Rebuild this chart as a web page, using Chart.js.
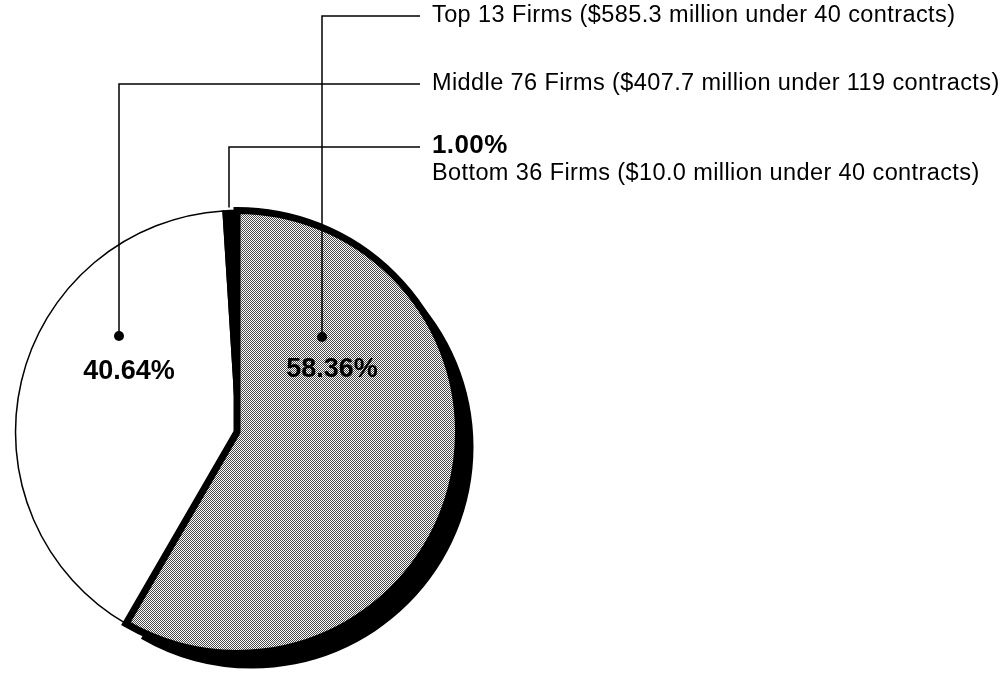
<!DOCTYPE html>
<html>
<head>
<meta charset="utf-8">
<title>Contract dollars by firm group</title>
<script src="https://cdn.jsdelivr.net/npm/chart.js@4.4.1/dist/chart.umd.min.js"></script>
<style>
  body { margin: 0; background: #fff; }
  #wrap { width: 1005px; height: 675px; }
</style>
</head>
<body>
<div id="wrap"><canvas id="pieChart" width="1005" height="675"></canvas></div>
<script>
// slice order: drawn white, black, then gray on top
const groups = ['Middle 76 Firms', 'Bottom 36 Firms', 'Top 13 Firms'];
const shares = [40.64, 1.00, 58.36];
const dollars = ['$407.7', '$10.0', '$585.3'];
const contracts = [119, 40, 40];
const shareLabels = ['40.64%', '1.00%', '58.36%'];

function dotPattern() {
    const c = document.createElement('canvas');
    c.width = 2; c.height = 2;
    const g = c.getContext('2d');
    g.fillStyle = '#fff';
    g.fillRect(0, 0, 2, 2);
    g.fillStyle = '#4a4a4a';
    g.fillRect(0, 0, 1, 1);
    g.fillRect(1, 1, 1, 1);
    return g.createPattern(c, 'repeat');
}

document.addEventListener('DOMContentLoaded', function() {
    const ctx = document.getElementById('pieChart').getContext('2d');
    const gray = dotPattern();

    // black drop shadow under the big slice
    const shadowPlugin = {
        id: 'shadow',
        beforeDatasetsDraw(chart) {
            const arc = chart.getDatasetMeta(0).data[2];
            const p = arc.getProps(['x', 'y', 'startAngle', 'endAngle', 'outerRadius'], true);
            const c = chart.ctx;
            const dx = 15, dy = 15;
            c.save();
            c.fillStyle = '#000';
            c.beginPath();
            c.moveTo(p.x + dx, p.y + dy);
            c.arc(p.x + dx, p.y + dy, p.outerRadius, p.startAngle, p.endAngle);
            c.closePath();
            c.fill();
            c.restore();
        }
    };

    // leader lines, dots and text
    const notesPlugin = {
        id: 'notes',
        afterDraw(chart) {
            const c = chart.ctx;
            const meta = chart.getDatasetMeta(0);
            const cx = meta.data[0].x, cy = meta.data[0].y;
            const textX = 432, lineEnd = 420;
            c.save();
            c.strokeStyle = '#000';
            c.fillStyle = '#000';
            c.lineWidth = 1.5;

            // Top 13 firms: dot in gray slice
            const topDot = [cx + 85, cy - 95];
            const topY = 16;
            c.beginPath();
            c.moveTo(topDot[0], topDot[1]);
            c.lineTo(topDot[0], topY);
            c.lineTo(lineEnd, topY);
            c.stroke();
            c.beginPath(); c.arc(topDot[0], topDot[1], 5, 0, Math.PI * 2); c.fill();

            // Middle 76 firms: dot in white slice
            const midDot = [cx - 118, cy - 96];
            const midY = 84;
            c.beginPath();
            c.moveTo(midDot[0], midDot[1]);
            c.lineTo(midDot[0], midY);
            c.lineTo(lineEnd, midY);
            c.stroke();
            c.beginPath(); c.arc(midDot[0], midDot[1], 5, 0, Math.PI * 2); c.fill();

            // Bottom 36 firms: from top of black slice
            const botX = cx - 8;
            const botY = 147;
            c.beginPath();
            c.moveTo(botX, cy - meta.data[1].outerRadius - 3);
            c.lineTo(botX, botY);
            c.lineTo(lineEnd, botY);
            c.stroke();

            c.textBaseline = 'middle';
            c.textAlign = 'left';
            c.letterSpacing = '0.4px';
            c.font = '23.5px "Liberation Sans", Arial, sans-serif';
            c.fillText(groups[2] + ' (' + dollars[2] + ' million under ' + contracts[2] + ' contracts)', textX, topY);
            c.fillText(groups[0] + ' (' + dollars[0] + ' million under ' + contracts[0] + ' contracts)', textX, midY);
            c.fillText(groups[1] + ' (' + dollars[1] + ' million under ' + contracts[1] + ' contracts)', textX, 174);
            c.font = 'bold 26px "Liberation Sans", Arial, sans-serif';
            c.fillText(shareLabels[1], textX, botY - 1);

            c.letterSpacing = '0px';
            c.textAlign = 'center';
            c.font = 'bold 27px "Liberation Sans", Arial, sans-serif';
            c.fillText(shareLabels[0], cx - 108, cy - 60);
            c.fillText(shareLabels[2], cx + 95, cy - 62);
            c.restore();
        }
    };

    new Chart(ctx, {
        type: 'pie',
        data: {
            labels: groups,
            datasets: [{
                data: shares,
                backgroundColor: ['#ffffff', '#000000', gray],
                borderColor: '#000000',
                borderWidth: [1.5, 1.5, 7],
                borderJoinStyle: 'miter'
            }]
        },
        options: {
            responsive: false,
            animation: false,
            rotation: 360 * shares[2] / 100,
            layout: { padding: { left: 12, top: 207, right: 543, bottom: 18 } },
            plugins: {
                legend: { display: false },
                tooltip: { enabled: false }
            }
        },
        plugins: [shadowPlugin, notesPlugin]
    });
});
</script>
</body>
</html>
